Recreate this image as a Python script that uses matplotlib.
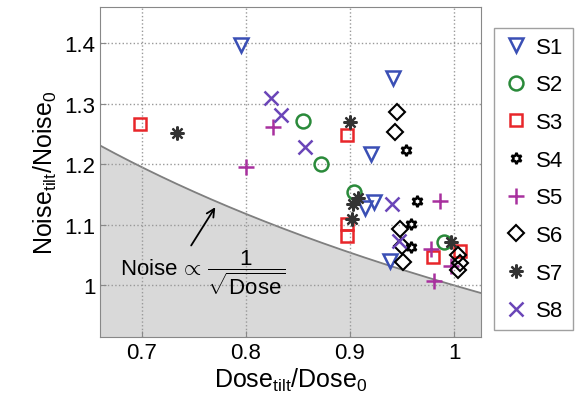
import numpy as np
import matplotlib
matplotlib.use("Agg")
import matplotlib.pyplot as plt

plt.rcParams['font.family'] = ['Liberation Sans', 'DejaVu Sans']
plt.rcParams['mathtext.fontset'] = 'custom'
plt.rcParams['mathtext.rm'] = 'Liberation Sans'
plt.rcParams['mathtext.it'] = 'Liberation Sans'

# measured points per sample (Dose ratio, Noise ratio)
s1_x = [0.795, 0.941, 0.920, 0.923, 0.914, 0.938]
s1_y = [1.397, 1.342, 1.217, 1.138, 1.128, 1.040]
s2_x = [0.855, 0.872, 0.904, 0.990]
s2_y = [1.271, 1.201, 1.154, 1.071]
s3_x = [0.698, 0.897, 0.897, 0.897, 0.980, 1.006]
s3_y = [1.267, 1.249, 1.101, 1.081, 1.047, 1.056]
s4_x = [0.954, 0.964, 0.959, 0.959]
s4_y = [1.224, 1.140, 1.101, 1.063]
s5_x = [0.800, 0.826, 0.986, 0.978, 0.981, 0.997]
s5_y = [1.196, 1.262, 1.140, 1.060, 1.007, 1.032]
s6_x = [0.945, 0.943, 0.948, 0.950, 0.951, 1.004, 1.006, 1.004]
s6_y = [1.287, 1.254, 1.093, 1.065, 1.038, 1.050, 1.037, 1.025]
s7_x = [0.734, 0.900, 0.903, 0.908, 0.902, 0.997]
s7_y = [1.251, 1.270, 1.135, 1.145, 1.110, 1.071]
s8_x = [0.824, 0.834, 0.857, 0.940, 0.947]
s8_y = [1.310, 1.281, 1.229, 1.134, 1.073]

fig = plt.figure(figsize=(5.79, 4.14), dpi=100)
ax = fig.add_axes([0.173, 0.184, 0.658, 0.797])

xlim = (0.66, 1.026)
ylim = (0.915, 1.46)

# 1/sqrt(Dose) bound, shaded below
xc = np.linspace(xlim[0], xlim[1], 200)
yc = 1 / np.sqrt(xc)
ax.fill_between(xc, ylim[0], yc, color='#d9d9d9', zorder=0)
ax.plot(xc, yc, color='#7f7f7f', lw=1.3, zorder=1)

ms = 10
mew = 1.8
ax.plot(s1_x, s1_y, 'v', ms=ms, mew=mew, mfc='none', color='#3a4fb5', label='S1')
ax.plot(s2_x, s2_y, 'o', ms=ms, mew=mew, mfc='none', color='#2a8a3a', label='S2')
ax.plot(s3_x, s3_y, 's', ms=9, mew=mew, mfc='none', color='#e8262a', label='S3')
ax.plot(s4_x, s4_y, marker=(6, 1, 0), ls='none', ms=8, mew=mew, mfc='none', color='black', label='S4')
ax.plot(s5_x, s5_y, '+', ms=12, mew=mew, color='#a8309e', label='S5')
ax.plot(s6_x, s6_y, 'D', ms=8, mew=1.5, mfc='none', color='black', label='S6')
ax.plot(s7_x, s7_y, marker=(8, 2, 0), ls='none', ms=10, mew=1.6, color='#333333', label='S7')
ax.plot(s8_x, s8_y, 'x', ms=10, mew=mew, color='#6a45b8', label='S8')

# label for the bound with an arrow to the curve
ax.annotate('', xy=(0.772, 1.133), xytext=(0.746, 1.062),
            arrowprops=dict(arrowstyle='->', color='black', lw=1.3, mutation_scale=14))
ax.text(0.758, 1.022, r'Noise$\,\propto\,\dfrac{1}{\sqrt{\mathrm{Dose}}}$',
        fontsize=16, ha='center', va='center')

ax.set_xlim(xlim)
ax.set_ylim(ylim)
ax.set_xticks([0.7, 0.8, 0.9, 1.0])
ax.set_xticklabels(['0.7', '0.8', '0.9', '1'])
ax.set_yticks([1.0, 1.1, 1.2, 1.3, 1.4])
ax.set_yticklabels(['1', '1.1', '1.2', '1.3', '1.4'])
ax.tick_params(direction='in', labelsize=16, length=4, color='#888888')
ax.grid(True, ls=':', color='#999999', lw=1)
for sp in ax.spines.values():
    sp.set_color('#888888')

ax.set_xlabel(r'Dose$_{\rm tilt}$/Dose$_{\rm 0}$', fontsize=18, labelpad=2)
ax.set_ylabel(r'Noise$_{\rm tilt}$/Noise$_{\rm 0}$', fontsize=18, labelpad=4)

leg = ax.legend(loc='upper left', bbox_to_anchor=(1.005, 0.97), fontsize=16,
                frameon=True, fancybox=False, edgecolor='#888888',
                handletextpad=0.3, borderpad=0.4, labelspacing=0.75, handlelength=1.2)
leg.get_frame().set_linewidth(1.0)

fig.savefig('out.png', dpi=100)
